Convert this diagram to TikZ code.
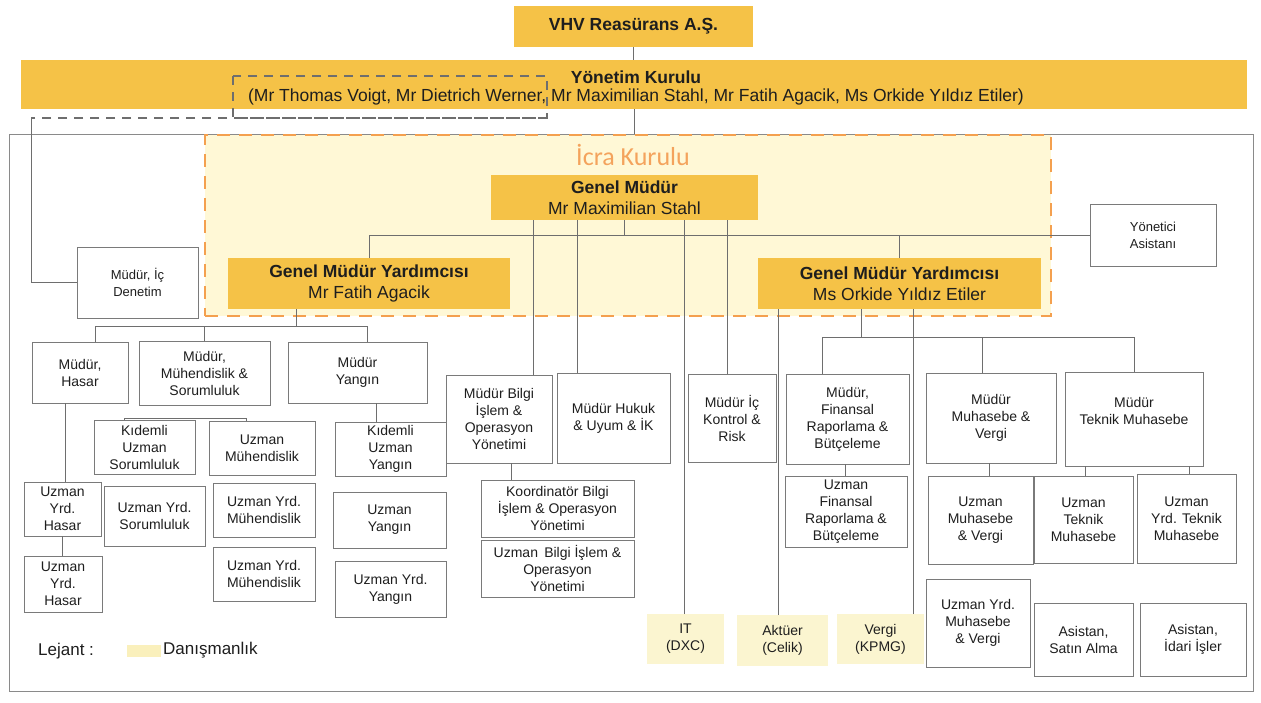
\documentclass[tikz,border=0pt]{standalone}
\usepackage{fontspec}
\setmainfont{Liberation Sans}
\newfontfamily\carl{Carlito}
\definecolor{hdr}{HTML}{F5C247}
\definecolor{icraf}{HTML}{FFF8D6}
\definecolor{icrac}{HTML}{F4A04F}
\definecolor{titc}{HTML}{F4A35C}
\definecolor{consf}{HTML}{FBF5D0}
\definecolor{swc}{HTML}{FAF0BC}
\definecolor{linec}{HTML}{6E6E6E}
\definecolor{boxc}{HTML}{7A7A7A}
\definecolor{framec}{HTML}{8A8A8A}
\definecolor{txt}{HTML}{1E1E1E}
\begin{document}
\begin{tikzpicture}[x=1pt,y=-1pt,
  corners/.style args={#1,#2,#3,#4}{minimum width={#3-#1}, minimum height={#4-#2}, at={({(#1+#3)/2},{(#2+#4)/2})}},
  conn/.style={draw=linec, line width=1pt},
  gdash/.style={draw=linec, line width=1.4pt, dash pattern=on 9pt off 7pt},
  hdrbox/.style={fill=hdr, inner sep=0pt, outer sep=0pt, align=center, text=txt, font=\fontsize{17.5}{21}\selectfont},
  orgbox/.style={draw=boxc, line width=0.9pt, fill=white, inner sep=0pt, outer sep=0pt, align=center, text=txt, font=\fontsize{14}{17}\selectfont},
  smallbox/.style={orgbox, font=\fontsize{13}{17}\selectfont},
  consbox/.style={fill=consf, inner sep=0pt, outer sep=0pt, align=center, text=txt, font=\fontsize{14}{17}\selectfont},
  plain/.style={inner sep=0pt, text=txt},
]
\useasboundingbox (0,0) rectangle (1261,702);
\fill[white] (0,0) rectangle (1261,702);

% frame and Icra Kurulu area
\node[draw=framec, line width=1pt, inner sep=0pt, outer sep=0pt, corners={9,134,1253,691}] (frame) {};
\node[fill=icraf, draw=icrac, line width=2.6pt, dash pattern=on 13pt off 9pt, inner sep=0pt, outer sep=0pt, corners={205,135,1051,316}] (icra) {};
\node[font=\carl\fontsize{26}{28}\selectfont, text=titc, inner sep=0pt] (icrat) at (633,155) {İcra Kurulu};

% top
\node[hdrbox, corners={514,6,753,47}] (vhv) {\textbf{VHV Reasürans A.Ş.}};
\node[hdrbox, corners={21,60,1247,109}] (bar) {};
\node[plain, font=\fontsize{17.5}{21}\selectfont] (yk1) at (636,77) {\textbf{Yönetim Kurulu}};
\node[plain, font=\fontsize{17.5}{21}\selectfont] (yk2) at (636,97) {(Mr Thomas Voigt, Mr Dietrich Werner, Mr Maximilian Stahl, Mr Fatih Agacik, Ms Orkide Yıldız Etiler)};

% level 1 and 2
\node[hdrbox, corners={491,175,758,220}] (gm) {\textbf{Genel Müdür}\\Mr Maximilian Stahl};
\node[hdrbox, corners={228,258,510,309}] (gmyl) {\textbf{Genel Müdür Yardımcısı}\\Mr Fatih Agacik};
\node[hdrbox, corners={758,258,1041,309}] (gmyr) {\textbf{Genel Müdür Yardımcısı}\\Ms Orkide Yıldız Etiler};
\node[smallbox, corners={1090,204,1216,266}] (yon) {Yönetici\\Asistanı};
\node[smallbox, corners={77,247,198,318}] (den) {Müdür, İç\\Denetim};

% left branch
\node[orgbox, corners={32,342,128,403}] (mhas) {Müdür,\\Hasar};
\node[orgbox, corners={139,341,270,405}] (mmuh) {Müdür,\\Mühendislik \&\\Sorumluluk};
\node[orgbox, corners={288,342,427,403}] (myan) {Müdür\\Yangın};
\node[orgbox, corners={94,420,195,474}] (ksor) {Kıdemli\\Uzman\\Sorumluluk};
\node[orgbox, corners={209,421,315,475}] (umuh) {Uzman\\Mühendislik};
\node[orgbox, corners={24,482,101,536}] (uyh1) {Uzman\\Yrd.\\Hasar};
\node[orgbox, corners={24,556,102,612}] (uyh2) {Uzman\\Yrd.\\Hasar};
\node[orgbox, corners={104,486,205,546}] (uysor) {Uzman Yrd.\\Sorumluluk};
\node[orgbox, corners={213,483,315,537}] (uym1) {Uzman Yrd.\\Mühendislik};
\node[orgbox, corners={213,547,315,601}] (uym2) {Uzman Yrd.\\Mühendislik};
\node[orgbox, corners={335,422,446,476}] (kuy) {Kıdemli\\Uzman\\Yangın};
\node[orgbox, corners={333,492,446,548}] (uyan) {Uzman\\Yangın};
\node[orgbox, corners={335,561,446,617}] (uyy) {Uzman Yrd.\\Yangın};

% middle
\node[orgbox, corners={446,375,552,463}] (mbilgi) {Müdür Bilgi\\İşlem \&\\Operasyon\\Yönetimi};
\node[orgbox, corners={557,373,670,463}] (mhuk) {Müdür Hukuk\\\& Uyum \& İK};
\node[orgbox, corners={481,480,634,537}] (koord) {Koordinatör Bilgi\\İşlem \& Operasyon\\Yönetimi};
\node[orgbox, corners={481,540,634,597}] (ubilgi) {Uzman\, Bilgi İşlem \&\\Operasyon\\Yönetimi};
\node[orgbox, corners={688,374,776,462}] (mick) {Müdür İç\\Kontrol \&\\Risk};
\node[consbox, corners={647,614,724,664}] (it) {IT\\(DXC)};
\node[consbox, corners={737,615,828,666}] (akt) {Aktüer\\(Celik)};
\node[consbox, corners={837,614,924,664}] (verg) {Vergi\\(KPMG)};

% right branch
\node[orgbox, corners={786,374,909,464}] (mfin) {Müdür,\\Finansal\\Raporlama \&\\Bütçeleme};
\node[orgbox, corners={785,476,907,547}] (ufin) {Uzman\\Finansal\\Raporlama \&\\Bütçeleme};
\node[orgbox, corners={926,373,1056,463}] (mmuhv) {Müdür\\Muhasebe \&\\Vergi};
\node[orgbox, corners={1065,372,1203,466}] (mtek) {Müdür\\Teknik Muhasebe\\\mbox{}};
\node[orgbox, corners={928,476,1033,564}] (umv) {Uzman\\Muhasebe\\\& Vergi};
\node[orgbox, corners={1034,476,1133,563}] (utm) {Uzman\\Teknik\\Muhasebe};
\node[orgbox, corners={1137,474,1236,563}] (uytm) {Uzman\\Yrd. Teknik\\Muhasebe};
\node[orgbox, corners={926,579,1030,667}] (uymv) {Uzman Yrd.\\Muhasebe\\\& Vergi};
\node[orgbox, corners={1034,603,1133,676}] (asa) {Asistan,\\Satın Alma};
\node[orgbox, corners={1140,603,1246,676}] (aid) {Asistan,\\İdari İşler};

% legend
\node[plain, anchor=west, font=\fontsize{17}{20}\selectfont] (lej) at (38,651) {Lejant :};
\node[fill=swc, inner sep=0pt, corners={127,645,161,657}] (sw) {};
\node[plain, anchor=west, font=\fontsize{17}{20}\selectfont] (dan) at (163,650) {Danışmanlık};

% Yonetim Kurulu dashed bracket and audit link
\coordinate (dlR) at (547,118);
\coordinate (dlL) at (31,118);
\draw[gdash] (233,76) rectangle (dlR);
\draw[gdash] (dlR) -- (dlL);
\draw[conn] (dlL) |- (den.west);

% top connectors
\draw[conn] (vhv.south) -- (vhv.south |- bar.north);
\draw[conn] (bar.south) -- (bar.south |- frame.north);
\draw[conn] (gm.south) -- (gm.south |- yon.west);
\draw[conn] (gmyl.north) |- (yon.west);
\draw[conn] (gmyr.north) -- (gmyr.north |- yon.west);

% Genel Mudur direct reports
\draw[conn] ([xshift=34]mbilgi.north) -- ([xshift=34]mbilgi.north |- gm.south);
\draw[conn] ([xshift=-36]mhuk.north) -- ([xshift=-36]mhuk.north |- gm.south);
\draw[conn] ([xshift=-1.5]it.north) -- ([xshift=-1.5]it.north |- gm.south);
\draw[conn] ([xshift=-5]mick.north) -- ([xshift=-5]mick.north |- gm.south);

% left GMY
\coordinate (lbus) at (0,326);
\draw[conn] ([xshift=-73]gmyl.south) -- ([xshift=-73]gmyl.south |- lbus);
\draw[conn] ([xshift=15]mhas.north) |- ([xshift=9.5]myan.north |- lbus) -- ([xshift=9.5]myan.north);
\draw[conn] (mmuh.north) -- (mmuh.north |- lbus);
\draw[conn] ([xshift=-15]mhas.south) -- ([xshift=-15]mhas.south |- uyh1.north);
\draw[conn] (uyh1.south) -- (uyh1.south |- uyh2.north);
\draw[conn] ([xshift=-20]ksor.north) |- ([xshift=-16,yshift=3]umuh.north) -- ([xshift=-16]umuh.north);
\draw[conn] ([xshift=18.5]myan.south) -- ([xshift=18.5]myan.south |- kuy.north);
\draw[conn] ([xshift=12]mbilgi.south) -- ([xshift=12]mbilgi.south |- koord.north);

% right GMY
\coordinate (rbus) at (0,337);
\draw[conn] ([xshift=-4.5]akt.north) -- ([xshift=-4.5]akt.north |- gmyr.south);
\draw[conn] ([xshift=32.5]verg.north) -- ([xshift=32.5]verg.north |- gmyr.south);
\draw[conn] ([xshift=-38.5]gmyr.south) -- ([xshift=-38.5]gmyr.south |- rbus);
\draw[conn] ([xshift=-25.5]mfin.north) |- (mtek.north |- rbus) -- (mtek.north);
\draw[conn] ([xshift=-9]mmuhv.north) -- ([xshift=-9]mmuhv.north |- rbus);
\draw[conn] ([xshift=-2]mfin.south) -- ([xshift=-2]mfin.south |- ufin.north);
\draw[conn] ([xshift=-2]mmuhv.south) -- ([xshift=-2]mmuhv.south |- umv.north);
\draw[conn] ([xshift=-49]mtek.south) -- ([xshift=-49]mtek.south |- utm.north);
\draw[conn] ([xshift=55]mtek.south) -- ([xshift=55]mtek.south |- uytm.north);
\end{tikzpicture}
\end{document}
